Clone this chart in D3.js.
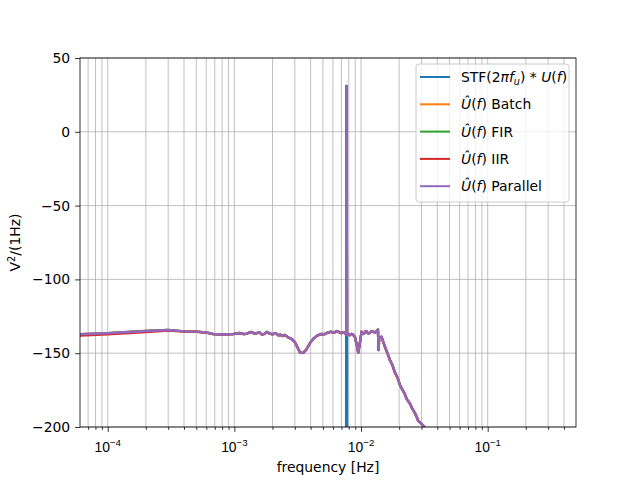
<!DOCTYPE html>
<html>
<head>
<meta charset="utf-8">
<script src="https://cdn.jsdelivr.net/npm/d3@7"></script>
<style>
  body { margin: 0; background: #fff; }
  svg { font-family: "DejaVu Sans", sans-serif; }
</style>
</head>
<body>
<svg id="grafico" width="640" height="480"></svg>
<script>
// frequencias [Hz] das estimativas
const freqs = [6.0e-5, 1.0e-4, 2.0e-4, 3.0e-4, 4.0e-4, 5.0e-4, 6.0e-4, 6.8e-4, 8.0e-4, 9.8e-4,
  1.05e-3, 1.1e-3, 1.18e-3, 1.25e-3, 1.31e-3, 1.37e-3, 1.43e-3, 1.5e-3, 1.57e-3, 1.65e-3,
  1.72e-3, 1.8e-3, 1.9e-3, 2.0e-3, 2.08e-3, 2.15e-3, 2.23e-3, 2.3e-3, 2.4e-3, 2.5e-3,
  2.65e-3, 2.85e-3, 3.0e-3, 3.15e-3, 3.3e-3, 3.5e-3, 3.7e-3, 3.96e-3, 4.2e-3, 4.47e-3,
  4.8e-3, 5.1e-3, 5.36e-3, 5.8e-3, 6.0e-3, 6.2e-3, 6.4e-3, 6.6e-3, 6.8e-3, 7.0e-3,
  7.2e-3, 7.4e-3, 7.6e-3, 7.64e-3, 7.69e-3, 7.74e-3, 7.9e-3, 8.17e-3, 8.4e-3, 8.6e-3,
  8.95e-3, 9.2e-3, 9.5e-3, 9.75e-3, 1.01e-2, 1.04e-2, 1.06e-2, 1.08e-2, 1.1e-2, 1.14e-2,
  1.175e-2, 1.21e-2, 1.25e-2, 1.29e-2, 1.33e-2, 1.36e-2, 1.375e-2, 1.39e-2, 1.45e-2, 1.5e-2,
  1.55e-2, 1.62e-2, 1.69e-2, 1.77e-2, 1.85e-2, 1.94e-2, 2.03e-2, 2.1e-2, 2.2e-2, 2.3e-2,
  2.43e-2, 2.52e-2, 2.6e-2, 2.7e-2, 2.83e-2, 3.0e-2, 3.3e-2, 4.0e-2];

// Batch, FIR e Parallel coincidem
const estimativaDb = [-137.2, -136.5, -135.0, -134.3, -135.2, -135.4, -136.0, -137.0, -137.3, -137.0,
  -136.6, -136.3, -137.0, -136.8, -135.9, -135.6, -136.6, -136.4, -135.8, -137.3,
  -136.9, -135.6, -136.6, -137.2, -136.5, -136.8, -137.9, -137.4, -138.3, -137.6,
  -139.2, -140.5, -142.4, -146.0, -149.6, -149.8, -147.5, -143.0, -140.2, -138.3,
  -137.0, -137.2, -136.3, -135.4, -136.1, -135.8, -135.0, -135.2, -136.0, -136.4,
  -135.7, -136.0, -137.2, -137.0, 31.0, -137.5, -136.8, -137.7, -136.9, -137.2,
  -139.0, -143.5, -149.6, -144.0, -135.4, -136.8, -136.5, -135.3, -135.0, -136.6,
  -136.2, -135.0, -135.3, -136.1, -135.0, -134.0, -147.8, -140.0, -138.8, -142.5,
  -146.0, -150.2, -154.6, -158.0, -163.0, -166.5, -171.5, -174.0, -177.0, -181.2,
  -184.0, -187.0, -189.0, -191.5, -195.8, -197.8, -201.5, -212.0];

const iirDb = [-138.0, -137.2, -135.6, -134.6, -135.3, -135.5, -136.1, -137.1, -137.4, -137.1,
  -136.7, -136.4, -137.1, -136.9, -136.0, -135.7, -136.7, -136.5, -135.9, -137.4,
  -137.0, -135.7, -136.7, -137.3, -136.6, -136.9, -138.0, -137.5, -138.4, -137.7,
  -139.3, -140.6, -142.5, -146.1, -149.7, -149.9, -147.6, -143.1, -140.3, -138.4,
  -137.1, -137.3, -136.4, -135.5, -136.2, -135.9, -135.1, -135.3, -136.1, -136.5,
  -135.8, -136.1, -137.3, -137.1, 30.8, -137.6, -136.9, -137.8, -137.0, -137.3,
  -139.1, -143.6, -149.7, -144.1, -135.5, -136.9, -136.6, -135.4, -135.1, -136.7,
  -136.3, -135.1, -135.4, -136.2, -135.1, -134.1, -147.9, -140.1, -138.9, -142.6,
  -146.1, -150.3, -154.7, -158.1, -163.1, -166.6, -171.6, -174.1, -177.1, -181.3,
  -184.1, -187.1, -189.1, -191.6, -195.9, -197.9, -201.6, -212.1];

// sinal de referencia: so a raia em f_u
const stfFreqs = [7.62e-3, 7.67e-3, 7.71e-3, 7.76e-3];
const stfDb = [-300, 31.0, 31.0, -300];

const rotulosLegenda = ["stf", "Batch", "FIR", "IIR", "Parallel"];
const cores = ["#1f77b4", "#ff7f0e", "#2ca02c", "#d62728", "#9467bd"];
const yTicks = [50, 0, -50, -100, -150, -200];
const xDecadas = [-4, -3, -2, -1];

const margem = {top: 58, right: 64, bottom: 53, left: 80};
const largura = 640 - margem.left - margem.right;
const altura = 480 - margem.top - margem.bottom;

const svg = d3.select("#grafico");
const g = svg.append("g").attr("transform", `translate(${margem.left},${margem.top})`);

const x = d3.scaleLog().domain([6.04e-5, 0.498]).range([0, largura]);
const y = d3.scaleLinear().domain([-200, 50]).range([altura, 0]);

// ticks menores
const menores = [];
for (let d = -5; d <= 0; d++) {
  for (let k = 2; k <= 9; k++) {
    const v = k * Math.pow(10, d);
    if (v >= x.domain()[0] && v <= x.domain()[1]) menores.push(v);
  }
}
const maiores = xDecadas.map(d => Math.pow(10, d));

// grade
const grade = g.append("g").attr("stroke", "#b0b0b0").attr("stroke-width", 0.8);
grade.selectAll("line.gx").data(maiores.concat(menores)).enter().append("line")
  .attr("x1", d => x(d)).attr("x2", d => x(d)).attr("y1", 0).attr("y2", altura);
grade.selectAll("line.gy").data(yTicks).enter().append("line")
  .attr("x1", 0).attr("x2", largura).attr("y1", d => y(d)).attr("y2", d => y(d));

g.append("clipPath").attr("id", "recorte").append("rect")
  .attr("width", largura).attr("height", altura);

const linha = d3.line().x(d => x(d[0])).y(d => y(d[1]));
const areaPlot = g.append("g").attr("clip-path", "url(#recorte)");

const series = [
  d3.zip(stfFreqs, stfDb),
  d3.zip(freqs, estimativaDb),
  d3.zip(freqs, estimativaDb),
  d3.zip(freqs, iirDb),
  d3.zip(freqs, estimativaDb)
];
series.forEach((s, i) => {
  areaPlot.append("path").datum(s)
    .attr("d", linha).attr("fill", "none")
    .attr("stroke", cores[i]).attr("stroke-width", i === 0 ? 2.5 : 2.4)
    .attr("stroke-linejoin", "round");
});

// eixos
const eixoX = g.append("g").attr("transform", `translate(0,${altura})`);
eixoX.call(d3.axisBottom(x).tickValues(maiores).tickSize(4.9).tickFormat(""));
eixoX.append("g").call(d3.axisBottom(x).tickValues(menores).tickSize(2.8).tickFormat(""));
eixoX.selectAll(".domain").remove();
eixoX.selectAll("line").attr("stroke", "#000").attr("stroke-width", 0.8);

const rotX = eixoX.selectAll("text.rot").data(xDecadas).enter().append("text")
  .attr("class", "rot")
  .attr("x", d => x(Math.pow(10, d)))
  .attr("y", 25)
  .attr("text-anchor", "middle")
  .attr("font-size", "13.9px")
  .attr("fill", "#000");
rotX.append("tspan").text("10");
rotX.append("tspan").attr("dy", -6).attr("font-size", "9.7px").text(d => "\u2212" + Math.abs(d));

const eixoY = g.append("g").call(d3.axisLeft(y).tickValues(yTicks).tickSize(4.9).tickPadding(4.9)
  .tickFormat(d => d < 0 ? "\u2212" + Math.abs(d) : d));
eixoY.selectAll(".domain").remove();
eixoY.selectAll("line").attr("stroke", "#000").attr("stroke-width", 0.8);
eixoY.selectAll("text").attr("font-size", "13.9px").attr("font-family", "DejaVu Sans").attr("fill", "#000");

g.append("rect").attr("width", largura).attr("height", altura)
  .attr("fill", "none").attr("stroke", "#000").attr("stroke-width", 0.8);

// titulos dos eixos
svg.append("text").attr("x", margem.left + largura / 2).attr("y", 472)
  .attr("text-anchor", "middle").attr("font-size", "13.9px").text("frequency [Hz]");

const tituloY = svg.append("text")
  .attr("transform", `translate(20,${margem.top + altura / 2}) rotate(-90)`)
  .attr("text-anchor", "middle").attr("font-size", "13.9px");
tituloY.append("tspan").text("V");
tituloY.append("tspan").attr("dy", -5).attr("font-size", "9.7px").text("2");
tituloY.append("tspan").attr("dy", 5).text("/(1Hz)");

// legenda
const leg = svg.append("g").attr("transform", "translate(416,64)");
leg.append("rect").attr("width", 153).attr("height", 138).attr("rx", 3)
  .attr("fill", "#fff").attr("fill-opacity", 0.8)
  .attr("stroke", "#cccccc").attr("stroke-width", 1);

rotulosLegenda.forEach((rot, i) => {
  const yy = 13 + i * 27.3;
  leg.append("line").attr("x1", 4).attr("x2", 34).attr("y1", yy).attr("y2", yy)
    .attr("stroke", cores[i]).attr("stroke-width", 2);
  const t = leg.append("text").attr("x", 45).attr("y", yy + 5).attr("font-size", "13.9px");
  if (i === 0) {
    t.append("tspan").text("STF(2");
    t.append("tspan").attr("font-style", "italic").text("\u03c0f");
    t.append("tspan").attr("font-style", "italic").attr("font-size", "9.7px").attr("dy", 3).text("u");
    t.append("tspan").attr("dy", -3).text(") * ");
    t.append("tspan").attr("font-style", "italic").text("U");
    t.append("tspan").text("(");
    t.append("tspan").attr("font-style", "italic").text("f");
    t.append("tspan").text(")");
  } else {
    t.append("tspan").attr("font-style", "italic").text("\u00db");
    t.append("tspan").text("(");
    t.append("tspan").attr("font-style", "italic").text("f");
    t.append("tspan").text(") " + rot);
  }
});
</script>
</body>
</html>
